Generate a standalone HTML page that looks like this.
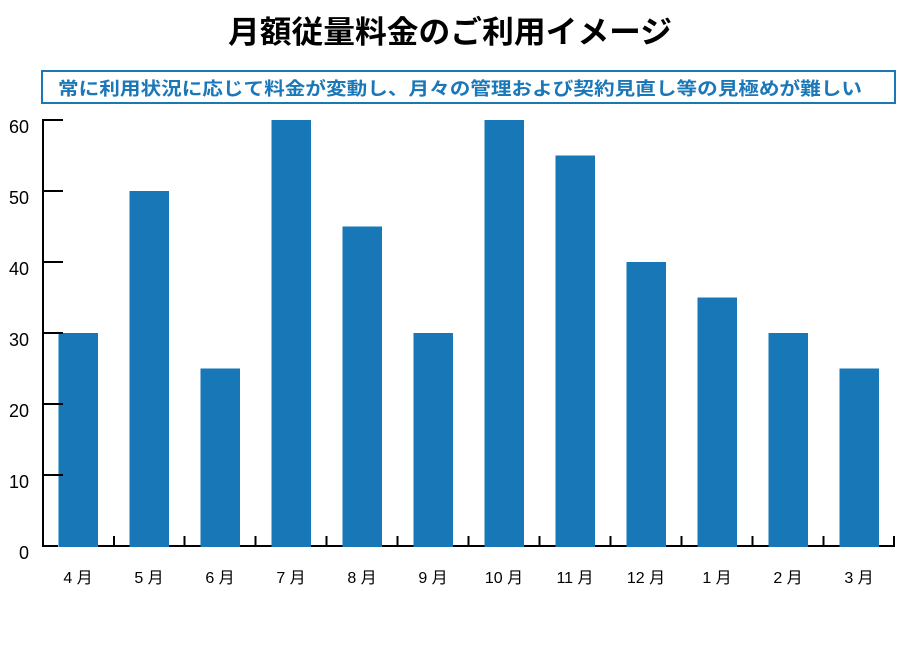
<!DOCTYPE html>
<html><head><meta charset="utf-8"><style>
body{margin:0;width:900px;height:640px;background:#fff;overflow:hidden}
</style></head><body>
<svg width="900" height="640" xmlns="http://www.w3.org/2000/svg" style="font-family:'Liberation Sans','Noto Sans CJK JP',sans-serif">
<text x="450" y="43" text-anchor="middle" font-size="31" font-weight="bold" fill="#000" textLength="444" lengthAdjust="spacingAndGlyphs">月額従量料金のご利用イメージ</text>
<rect x="42" y="71" width="853" height="32" fill="#fff" stroke="#1a77b8" stroke-width="2"/>
<text x="58" y="95" font-size="18" font-weight="bold" fill="#1a77b8" textLength="804" lengthAdjust="spacingAndGlyphs">常に利用状況に応じて料金が変動し、月々の管理および契約見直し等の見極めが難しい</text>
<g fill="#1777b7">
<rect x="58.5" y="333" width="39.5" height="214"/>
<rect x="129.5" y="191" width="39.5" height="356"/>
<rect x="200.5" y="368.5" width="39.5" height="178.5"/>
<rect x="271.5" y="120" width="39.5" height="427"/>
<rect x="342.5" y="226.5" width="39.5" height="320.5"/>
<rect x="413.5" y="333" width="39.5" height="214"/>
<rect x="484.5" y="120" width="39.5" height="427"/>
<rect x="555.5" y="155.5" width="39.5" height="391.5"/>
<rect x="626.5" y="262" width="39.5" height="285"/>
<rect x="697.5" y="297.5" width="39.5" height="249.5"/>
<rect x="768.5" y="333" width="39.5" height="214"/>
<rect x="839.5" y="368.5" width="39.5" height="178.5"/>
</g>
<g stroke="#000" stroke-width="2" fill="none">
<line x1="43" y1="119" x2="43" y2="547"/>
<line x1="42" y1="546" x2="58" y2="546"/>
<line x1="98" y1="546" x2="129.5" y2="546"/><line x1="169" y1="546" x2="200.5" y2="546"/><line x1="240" y1="546" x2="271.5" y2="546"/><line x1="311" y1="546" x2="342.5" y2="546"/><line x1="382" y1="546" x2="413.5" y2="546"/><line x1="453" y1="546" x2="484.5" y2="546"/><line x1="524" y1="546" x2="555.5" y2="546"/><line x1="595" y1="546" x2="626.5" y2="546"/><line x1="666" y1="546" x2="697.5" y2="546"/><line x1="737" y1="546" x2="768.5" y2="546"/><line x1="808" y1="546" x2="839.5" y2="546"/><line x1="879" y1="546" x2="895" y2="546"/>
<line x1="43" y1="120" x2="63" y2="120"/><line x1="43" y1="191" x2="63" y2="191"/><line x1="43" y1="262" x2="63" y2="262"/><line x1="43" y1="333" x2="63" y2="333"/><line x1="43" y1="404" x2="63" y2="404"/><line x1="43" y1="475" x2="63" y2="475"/>
<line x1="114" y1="536" x2="114" y2="546"/><line x1="184.5" y1="536" x2="184.5" y2="546"/><line x1="255.5" y1="536" x2="255.5" y2="546"/><line x1="326.5" y1="536" x2="326.5" y2="546"/><line x1="397.5" y1="536" x2="397.5" y2="546"/><line x1="468.5" y1="536" x2="468.5" y2="546"/><line x1="539.5" y1="536" x2="539.5" y2="546"/><line x1="610.5" y1="536" x2="610.5" y2="546"/><line x1="681.5" y1="536" x2="681.5" y2="546"/><line x1="752.5" y1="536" x2="752.5" y2="546"/><line x1="823.5" y1="536" x2="823.5" y2="546"/><line x1="894" y1="536" x2="894" y2="546"/>
</g>
<g font-size="18" fill="#000" text-anchor="end">
<text x="29" y="133">60</text><text x="29" y="204">50</text><text x="29" y="275">40</text><text x="29" y="346">30</text><text x="29" y="417">20</text><text x="29" y="488">10</text><text x="29" y="559">0</text>
</g>
<g font-size="16" fill="#000" text-anchor="middle">
<text x="78" y="583">4 月</text><text x="149" y="583">5 月</text><text x="220" y="583">6 月</text><text x="291" y="583">7 月</text><text x="362" y="583">8 月</text><text x="433" y="583">9 月</text><text x="504" y="583">10 月</text><text x="575" y="583">11 月</text><text x="646" y="583">12 月</text><text x="717" y="583">1 月</text><text x="788" y="583">2 月</text><text x="859" y="583">3 月</text>
</g>
</svg>
</body></html>
